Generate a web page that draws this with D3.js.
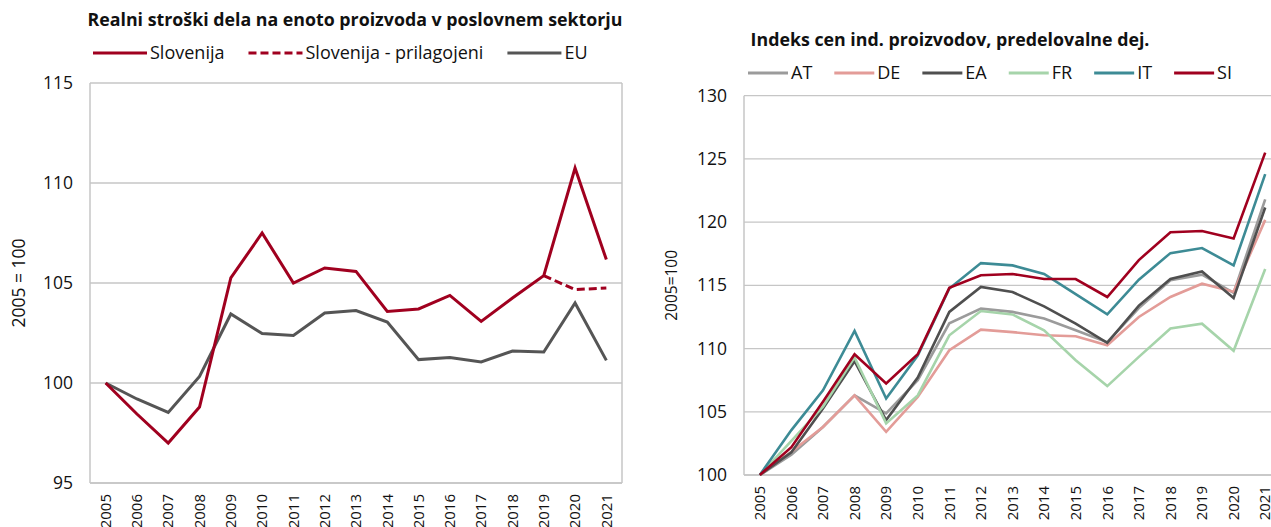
<!DOCTYPE html>
<html>
<head>
<meta charset="utf-8">
<script src="https://cdn.jsdelivr.net/npm/d3@7"></script>
<style>
  body { margin: 0; background: #fff; }
  text { font-family: "Open Sans", sans-serif; fill: #111; }
</style>
</head>
<body>
<div class="chart"></div>
<script>
const width = 1271;
const height = 527;

                                            // DATA //
const years = d3.range(2005, 2022).map(String);

// left chart: real unit labour costs
const slovenija = [100, 98.45, 97.0, 98.8, 105.25, 107.5, 105.0, 105.75, 105.58, 103.58, 103.7, 104.38, 103.08, 104.25, 105.37, 110.75, 106.17];
const sloAdjusted = [null, null, null, null, null, null, null, null, null, null, null, null, null, null, 105.37, 104.67, 104.75];
const eu = [100, 99.2, 98.53, 100.33, 103.45, 102.47, 102.38, 103.5, 103.62, 103.05, 101.17, 101.28, 101.05, 101.6, 101.55, 104.0, 101.13];
const leftTicks = [95, 100, 105, 110, 115];

// right chart: producer price index, manufacturing
const at = [100, 101.6, 103.8, 106.3, 104.87, 107.5, 112.0, 113.16, 112.9, 112.37, 111.45, 110.5, 113.2, 115.4, 115.84, 114.4, 121.8];
const de = [100, 101.84, 103.8, 106.3, 103.42, 106.18, 109.87, 111.5, 111.3, 111.05, 110.97, 110.26, 112.5, 114.08, 115.13, 114.5, 120.18];
const ea = [100, 101.8, 105.26, 109.0, 104.34, 107.7, 112.9, 114.87, 114.47, 113.34, 111.97, 110.45, 113.4, 115.5, 116.1, 114.0, 121.16];
const fr = [100, 102.7, 105.4, 109.3, 104.08, 106.3, 111.05, 112.97, 112.7, 111.45, 109.08, 107.03, 109.34, 111.58, 111.97, 109.82, 116.3];
const it = [100, 103.55, 106.7, 111.4, 106.05, 109.45, 114.75, 116.76, 116.58, 115.9, 114.3, 112.7, 115.45, 117.55, 117.95, 116.58, 123.8];
const si = [100, 102.2, 105.8, 109.55, 107.24, 109.55, 114.8, 115.8, 115.9, 115.5, 115.5, 114.08, 117.0, 119.2, 119.3, 118.7, 125.5];
const rightTicks = [100, 105, 110, 115, 120, 125, 130];

const leftSeries = [
    {name: "Slovenija", values: slovenija, color: "#A0001F", dash: null},
    {name: "Slovenija - prilagojeni", values: sloAdjusted, color: "#A0001F", dash: "8,4"},
    {name: "EU", values: eu, color: "#555555", dash: null}
];
const rightSeries = [
    {name: "AT", values: at, color: "#9B9B9B"},
    {name: "DE", values: de, color: "#E39C98"},
    {name: "EA", values: ea, color: "#4F4F4F"},
    {name: "FR", values: fr, color: "#A6D4AA"},
    {name: "IT", values: it, color: "#3D8B95"},
    {name: "SI", values: si, color: "#A0001F"}
];

const grid = "#C6C6C6";

const svg = d3
    .select(".chart")
    .append("svg")
    .attr("width", width)
    .attr("height", height)
    .attr("viewBox", [0, 0, width, height]);

                                            // HELPERS //
function drawFrame(x, y, ticks, yTitle, yTitleX, yTitleSize, box) {
    const [x0, x1] = x.range();
    const [y0, y1] = y.range();
    // gridlines
    svg.append("g").selectAll("line")
        .data(ticks)
        .join("line")
        .attr("x1", x0).attr("x2", x1)
        .attr("y1", d => y(d)).attr("y2", d => y(d))
        .attr("stroke", grid).attr("stroke-width", 1.3);
    // axis lines
    svg.append("line").attr("x1", x0).attr("x2", x0).attr("y1", y1).attr("y2", y0)
        .attr("stroke", grid).attr("stroke-width", 1.5);
    svg.append("line").attr("x1", x0).attr("x2", x1).attr("y1", y0).attr("y2", y0)
        .attr("stroke", grid).attr("stroke-width", 1.5);
    if (box) {
        svg.append("line").attr("x1", x1).attr("x2", x1).attr("y1", y1).attr("y2", y0)
            .attr("stroke", grid).attr("stroke-width", 1.5);
    }
    // y tick labels
    svg.append("g").selectAll("text")
        .data(ticks)
        .join("text")
        .attr("x", x0 - 17)
        .attr("y", d => y(d))
        .attr("dy", "0.35em")
        .attr("text-anchor", "end")
        .style("font-size", "17.5px")
        .text(d => d);
    // x tick labels (rotated)
    svg.append("g").selectAll("text")
        .data(x.domain())
        .join("text")
        .attr("transform", d => `translate(${x(d)},${y0 + 11}) rotate(-90)`)
        .attr("dy", "0.35em")
        .attr("text-anchor", "end")
        .style("font-size", "15px")
        .text(d => d);
    // y title
    const mid = (y0 + y1) / 2;
    svg.append("text")
        .attr("transform", `translate(${yTitleX},${mid}) rotate(-90)`)
        .attr("dy", "0.35em")
        .attr("text-anchor", "middle")
        .style("font-size", yTitleSize)
        .text(yTitle);
}

function drawLines(x, y, series, sw) {
    const line = d3.line()
        .defined(d => d[1] != null)
        .x(d => x(d[0]))
        .y(d => y(d[1]));
    svg.append("g").selectAll("path")
        .data(series)
        .join("path")
        .attr("d", s => line(years.map((yr, i) => [yr, s.values[i]])))
        .attr("fill", "none")
        .attr("stroke", s => s.color)
        .attr("stroke-width", sw)
        .attr("stroke-dasharray", s => s.dash || null)
        .attr("stroke-linejoin", "miter");
}

function drawLegend(items, yPos, startX, lineLen, gaps, sw) {
    let cx = startX;
    items.forEach((s, i) => {
        svg.append("line")
            .attr("x1", cx).attr("x2", cx + lineLen)
            .attr("y1", yPos).attr("y2", yPos)
            .attr("stroke", s.color).attr("stroke-width", sw)
            .attr("stroke-dasharray", s.dash || null);
        const t = svg.append("text")
            .attr("x", cx + lineLen + 3)
            .attr("y", yPos)
            .attr("dy", "0.35em")
            .style("font-size", "18px")
            .text(s.name);
        cx += lineLen + 3 + t.node().getComputedTextLength() + gaps;
    });
}

                                            // LEFT CHART //
const xL = d3.scalePoint().domain(years).range([90, 622]).padding(0.5);
const yL = d3.scaleLinear().domain([95, 115]).range([483, 83]);
drawFrame(xL, yL, leftTicks, "2005 = 100", 19, "17.5px", true);
drawLines(xL, yL, [leftSeries[2], leftSeries[1], leftSeries[0]], 3);

svg.append("text")
    .attr("x", 355).attr("y", 20)
    .attr("dy", "0.35em")
    .attr("text-anchor", "middle")
    .style("font-size", "17.8px")
    .style("font-weight", "bold")
    .text("Realni stroški dela na enoto proizvoda v poslovnem sektorju");
drawLegend(leftSeries, 53, 93, 54, 24, 3);

                                            // RIGHT CHART //
const xR = d3.scalePoint().domain(years).range([744, 1281]).padding(0.5);
const yR = d3.scaleLinear().domain([100, 130]).range([475, 95.7]);
drawFrame(xR, yR, rightTicks, "2005=100", 672, "15.5px", false);
drawLines(xR, yR, rightSeries, 2.6);

svg.append("text")
    .attr("x", 950).attr("y", 40)
    .attr("dy", "0.35em")
    .attr("text-anchor", "middle")
    .style("font-size", "17.8px")
    .style("font-weight", "bold")
    .text("Indeks cen ind. proizvodov, predelovalne dej.");
drawLegend(rightSeries, 73, 748, 40, 22, 3);
</script>
</body>
</html>
